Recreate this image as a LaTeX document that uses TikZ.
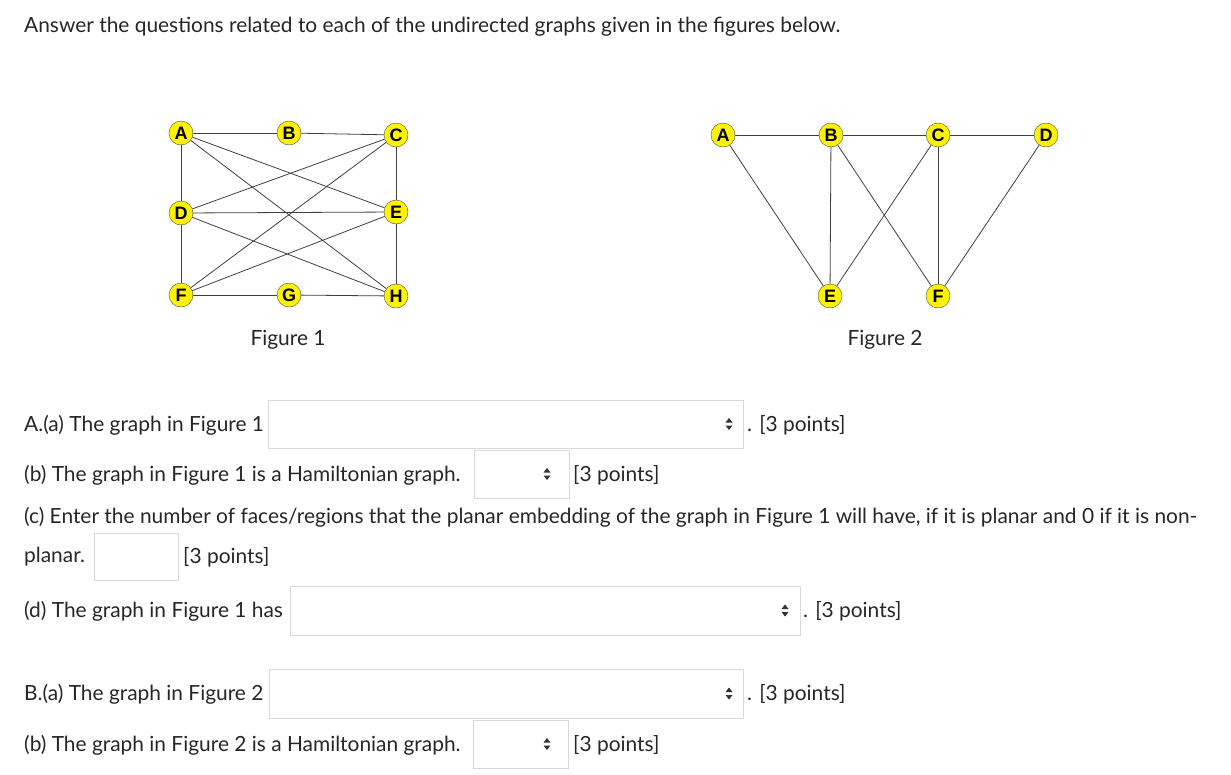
\documentclass[tikz,border=0pt]{standalone}
\usepackage{fontspec}
\setmainfont{Lato}
\newfontfamily\nodefont{Liberation Sans}
\begin{document}
\begin{tikzpicture}[x=1pt,y=-1pt,
 v/.style={circle,draw=black!70,fill=yellow,inner sep=0pt,minimum size=24pt,font=\fontsize{18}{18}\nodefont\bfseries},
 e/.style={draw=black!75,line width=0.8pt},
 txt/.style={anchor=west,inner sep=0pt,font=\fontsize{20.9}{24}\selectfont,text=black!85},
 dd/.style={draw=black!15,line width=0.8pt}]
\useasboundingbox (0,0) rectangle (1231,774);
\newcommand{\ddbox}[5]{\draw[dd] (#1,#2) rectangle (#3,#4);
 \fill[black!80] (#5,{(#2+#4)/2-6}) -- ++(-3.5,4.5) -- ++(7,0) -- cycle;
 \fill[black!80] (#5,{(#2+#4)/2+6}) -- ++(-3.5,-4.5) -- ++(7,0) -- cycle;}
\node[txt] (t) at (24,27) {Answer the questions related to each of the undirected graphs given in the figures below.};
% Figure 1
\node[v] (A) at (181,133) {A};
\node[v] (B) at (289,133) {B};
\node[v] (C) at (396,135) {C};
\node[v] (D) at (181,213) {D};
\node[v] (E) at (396,212) {E};
\node[v] (F) at (181,295) {F};
\node[v] (G) at (289,295) {G};
\node[v] (H) at (396,296) {H};
\foreach \a/\b in {A/B,B/C,A/D,D/F,F/G,G/H,C/E,E/H,A/E,A/H,C/D,C/F,D/E,D/H,F/E}
 \draw[e] (\a) -- (\b);
\node[txt,anchor=center] (f1) at (288,340) {Figure 1};
% Figure 2
\node[v] (A2) at (723,135) {A};
\node[v] (B2) at (831,135) {B};
\node[v] (C2) at (938,135) {C};
\node[v] (D2) at (1046,135) {D};
\node[v] (E2) at (830,296) {E};
\node[v] (F2) at (938,296) {F};
\foreach \a/\b in {A2/B2,B2/C2,C2/D2,A2/E2,B2/E2,B2/F2,C2/E2,C2/F2,D2/F2}
 \draw[e] (\a) -- (\b);
\node[txt,anchor=center] (f2) at (885,340) {Figure 2};
% questions
\node[txt] (qa) at (24,425) {A.(a) The graph in Figure 1};
\ddbox{268}{400}{743}{448}{729}
\node[txt] (pa) at (747,425) {. [3 points]};
\node[txt] (qb) at (24,475) {(b) The graph in Figure 1 is a Hamiltonian graph.};
\ddbox{474}{450}{569}{498}{547}
\node[txt] (pb) at (573,475) {[3 points]};
\node[txt] (qc) at (24,517) {(c) Enter the number of faces/regions that the planar embedding of the graph in Figure 1 will have, if it is planar and 0 if it is non-};
\node[txt] (qc2) at (24,557) {planar.};
\draw[dd] (94,533) rectangle (178,580);
\node[txt] (pc) at (183,557) {[3 points]};
\node[txt] (qd) at (24,611) {(d) The graph in Figure 1 has};
\ddbox{290}{586}{800}{635}{785}
\node[txt] (pd) at (803,611) {. [3 points]};
\node[txt] (qe) at (24,694) {B.(a) The graph in Figure 2};
\ddbox{269}{669}{743}{718}{729}
\node[txt] (pe) at (747,694) {. [3 points]};
\node[txt] (qf) at (24,745) {(b) The graph in Figure 2 is a Hamiltonian graph.};
\ddbox{473}{720}{568}{768}{547}
\node[txt] (pf) at (573,745) {[3 points]};
\end{tikzpicture}
\end{document}
